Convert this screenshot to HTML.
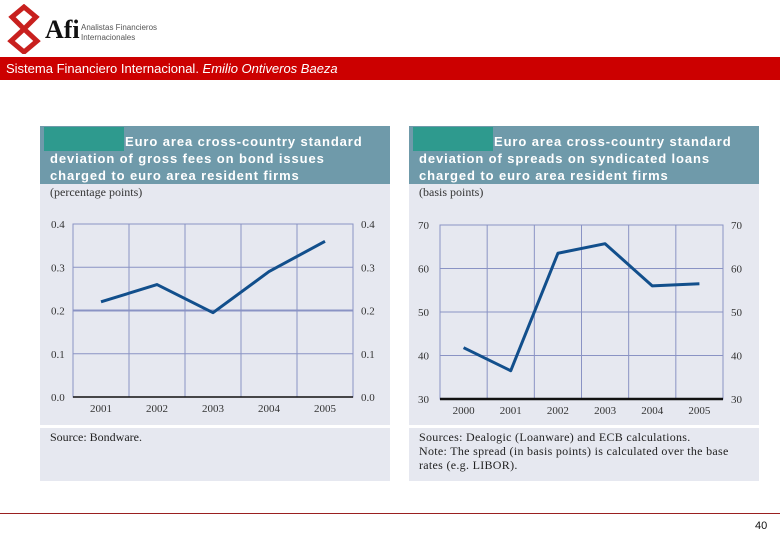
<!DOCTYPE html>
<html><head><meta charset="utf-8"><style>
body{margin:0;width:780px;height:540px;background:#fff;position:relative;overflow:hidden;font-family:"Liberation Sans",sans-serif}
.abs{position:absolute}
.panel{position:absolute;background:#e6e8f0;top:126px;width:350px;height:355px}
.hdr{position:absolute;left:0;top:0;width:350px;height:58px;background:#6f9aaa}
.teal{position:absolute;left:4px;top:1px;width:80px;height:24px;background:#2e9a8e}
.ttl{position:absolute;left:10px;top:7px;width:340px;color:#fff;font:bold 13px/17px "Liberation Sans",sans-serif;letter-spacing:0.9px;white-space:nowrap}
.ttl span{padding-left:75px}
.unit{position:absolute;left:10px;top:59px;font:12px "Liberation Serif",serif;color:#333}
.sep{position:absolute;left:0;top:299px;width:350px;height:3px;background:#fff}
.src{position:absolute;left:10px;top:304px;font:12px/14px "Liberation Serif",serif;color:#222;width:330px;white-space:nowrap}
svg text{font-family:"Liberation Serif",serif;font-size:11px;fill:#333}
</style></head><body>
<svg class="abs" style="left:4px;top:4px" width="40" height="50">
<path d="M20 3 L32 13 L20 25 L8 13 Z M20 25 L33 37 L20 48 L7 37 Z" fill="none" stroke="#c8201e" stroke-width="5"/>
</svg>
<div class="abs" style="left:45px;top:15px;font:bold 26px 'Liberation Serif',serif;color:#111">Afi</div>
<div class="abs" style="left:81px;top:23px;font:8px/10px 'Liberation Sans',sans-serif;color:#555">Analistas Financieros<br>Internacionales</div>
<div class="abs" style="left:0;top:57px;width:780px;height:23px;background:#cc0000;color:#fff;font-size:13px;line-height:24px;padding-left:6px;box-sizing:border-box">Sistema Financiero Internacional. <i>Emilio Ontiveros Baeza</i></div>

<div class="panel" style="left:40px">
<div class="hdr"><div class="teal"></div><div class="ttl"><span>Euro area cross-country standard</span><br>deviation of gross fees on bond issues<br>charged to euro area resident firms</div></div>
<div class="unit">(percentage points)</div>
<div class="sep"></div>
<div class="src">Source: Bondware.</div>
</div>
<div class="panel" style="left:409px">
<div class="hdr"><div class="teal"></div><div class="ttl"><span>Euro area cross-country standard</span><br>deviation of spreads on syndicated loans<br>charged to euro area resident firms</div></div>
<div class="unit">(basis points)</div>
<div class="sep"></div>
<div class="src" style="letter-spacing:0.3px">Sources: Dealogic (Loanware) and ECB calculations.<br>Note: The spread (in basis points) is calculated over the base<br>rates (e.g. LIBOR).</div>
</div>

<svg class="abs" style="left:0;top:0" width="780" height="540" id="charts"></svg>

<div class="abs" style="left:0;top:513px;width:780px;height:1px;background:#9a2020"></div>
<div class="abs" style="left:755px;top:520px;font-size:11px;color:#111">40</div>

<script>
const leftYears=['2001','2002','2003','2004','2005'];
const leftValues=[0.22,0.26,0.195,0.29,0.36];
const leftTicks=[0.0,0.1,0.2,0.3,0.4];
const rightYears=['2000','2001','2002','2003','2004','2005'];
const rightValues=[41.8,36.5,63.5,65.7,56,56.5];
const rightTicks=[30,40,50,60,70];
const NS='http://www.w3.org/2000/svg';
const svg=document.getElementById('charts');
function mk(t,a,p){const e=document.createElementNS(NS,t);for(const k in a)e.setAttribute(k,a[k]);(p||svg).appendChild(e);return e;}
function chart(o){
  const g=mk('g',{});
  
  
  const n=o.cats.length,w=(o.x1-o.x0)/n;
  const xs=i=>o.x0+w*(i+0.5);
  const ys=v=>o.y1-(v-o.min)/(o.max-o.min)*(o.y1-o.y0);
  mk('rect',{x:o.x0,y:o.y0,width:o.x1-o.x0,height:o.y1-o.y0,fill:'none',stroke:'#8a93c4','stroke-width':1},g);
  o.ticks.forEach((t,i)=>{
    const y=ys(t);
    const l=mk('line',{x1:o.x0,x2:o.x1,y1:y,y2:y,stroke:'#8a93c4','stroke-width':(o.bold===t?2:1)},g);
    
    
    const a=mk('text',{x:o.x0-22,y:y+4},g);a.textContent=o.fmt(t);
    
    
    const b=mk('text',{x:o.x1+8,y:y+4},g);b.textContent=o.fmt(t);
    
    
  });
  for(let i=1;i<n;i++){const x=o.x0+w*i;mk('line',{x1:x,x2:x,y1:o.y0,y2:o.y1,stroke:'#8a93c4'},g);}
  mk('line',{x1:o.x0,x2:o.x1,y1:o.y1,y2:o.y1,stroke:'#111','stroke-width':o.axisW},g);
  o.cats.forEach((c,i)=>{const t=mk('text',{x:xs(i),y:o.y1+15,'text-anchor':'middle'},g);t.textContent=c;
    
    });
  const p=mk('polyline',{points:o.vals.map((v,i)=>xs(i)+','+ys(v)).join(' '),fill:'none',stroke:'#124f8c','stroke-width':3,'stroke-linejoin':'round'},g);
  
  
}
chart({name:'left-chart',cats:leftYears,vals:leftValues,ticks:leftTicks,min:0,max:0.4,x0:73,x1:353,y0:224,y1:397,bold:0.2,axisW:1.5,fmt:t=>t.toFixed(1)});
chart({name:'right-chart',cats:rightYears,vals:rightValues,ticks:rightTicks,min:30,max:70,x0:440,x1:723,y0:225,y1:399,bold:null,axisW:2.5,fmt:t=>String(t)});
</script>
</body></html>
